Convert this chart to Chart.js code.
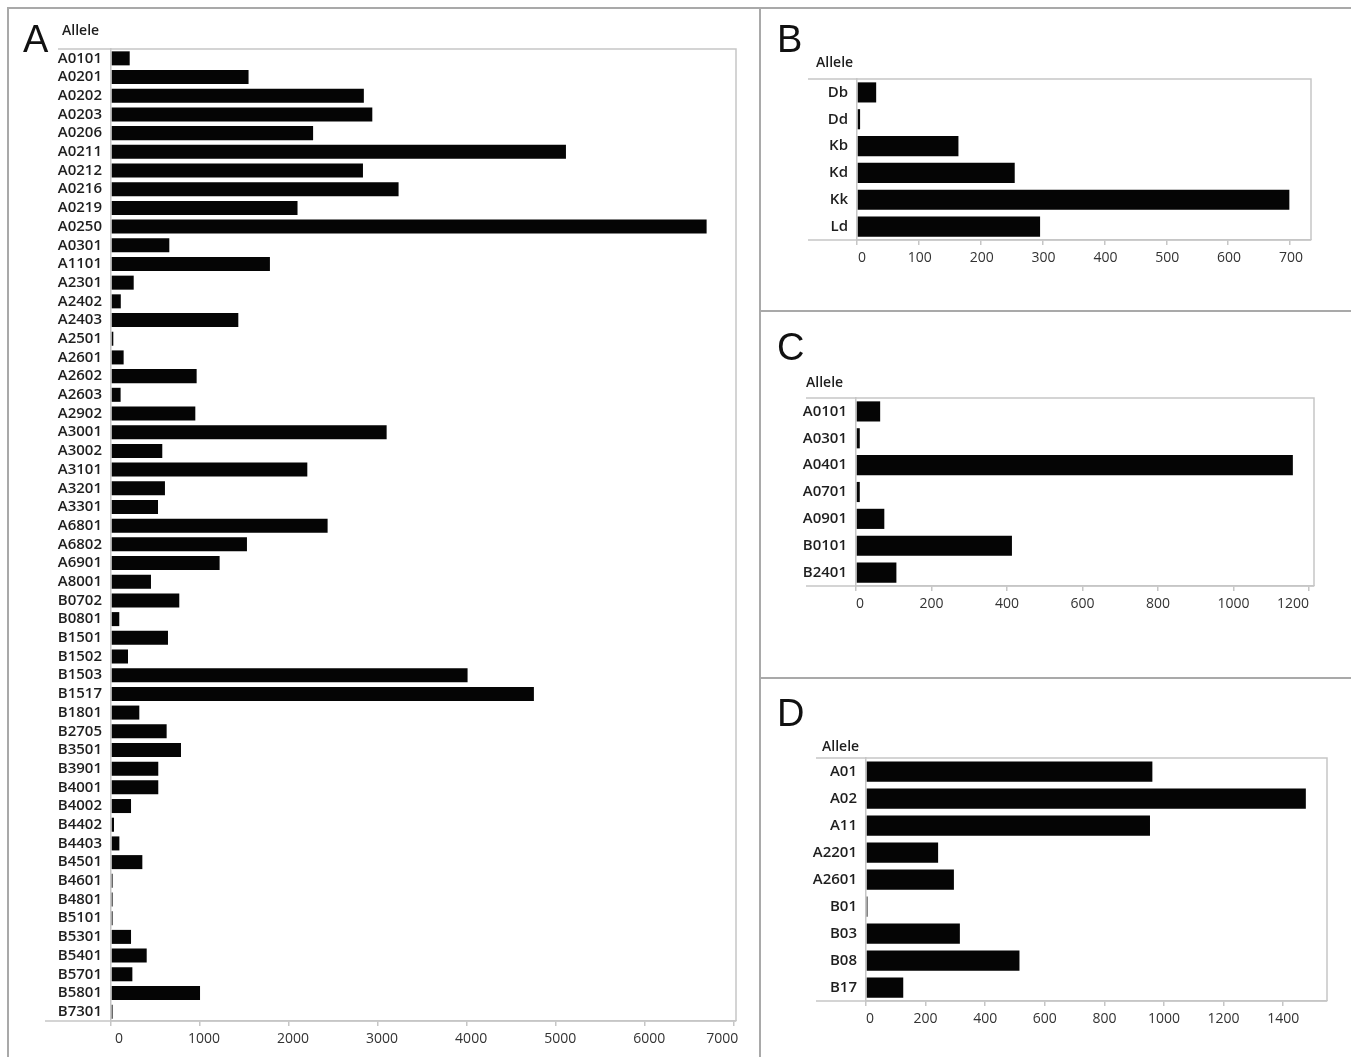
<!DOCTYPE html>
<html lang="en">
<head>
<meta charset="UTF-8">
<title>Allele counts</title>
<script src="https://cdn.jsdelivr.net/npm/chart.js"></script>
<style>
    body { margin: 0; background: #fff; width: 1351px; height: 1057px; overflow: hidden; position: relative; font-family: "Open Sans", sans-serif; }
    .rule { position: absolute; background: #a9a9a9; }
    .panel { position: absolute; }
    .letter { position: absolute; font-family: "Liberation Sans", Arial, sans-serif; font-size: 38px; line-height: 38px; color: #111; }
    .allele { position: absolute; font-size: 14px; font-weight: 600; line-height: 18px; color: #1e1e1e; }
</style>
</head>
<body>
<div class="rule" style="left:7px;top:7px;width:1344px;height:2px"></div>
<div class="rule" style="left:7px;top:7px;width:2px;height:1050px"></div>
<div class="rule" style="left:759px;top:7px;width:2px;height:1050px"></div>
<div class="rule" style="left:759px;top:310px;width:592px;height:2px"></div>
<div class="rule" style="left:759px;top:677px;width:592px;height:2px"></div>

<canvas id="chartA" class="panel" style="left:0;top:0" width="758" height="1057"></canvas>
<canvas id="chartB" class="panel" style="left:762px;top:0" width="589" height="308"></canvas>
<canvas id="chartC" class="panel" style="left:762px;top:313px" width="589" height="362"></canvas>
<canvas id="chartD" class="panel" style="left:762px;top:680px" width="589" height="377"></canvas>

<div class="letter" style="left:23px;top:20px">A</div>
<div class="letter" style="left:777px;top:20px">B</div>
<div class="letter" style="left:777px;top:328px">C</div>
<div class="letter" style="left:777px;top:694px">D</div>
<div class="allele" style="left:62px;top:21px">Allele</div>
<div class="allele" style="left:816px;top:53px">Allele</div>
<div class="allele" style="left:806px;top:373px">Allele</div>
<div class="allele" style="left:822px;top:737px">Allele</div>

<script>
    // panel A: HLA alleles
    const allelesA = ['A0101', 'A0201', 'A0202', 'A0203', 'A0206', 'A0211', 'A0212', 'A0216', 'A0219', 'A0250',
        'A0301', 'A1101', 'A2301', 'A2402', 'A2403', 'A2501', 'A2601', 'A2602', 'A2603', 'A2902',
        'A3001', 'A3002', 'A3101', 'A3201', 'A3301', 'A6801', 'A6802', 'A6901', 'A8001', 'B0702',
        'B0801', 'B1501', 'B1502', 'B1503', 'B1517', 'B1801', 'B2705', 'B3501', 'B3901', 'B4001',
        'B4002', 'B4402', 'B4403', 'B4501', 'B4601', 'B4801', 'B5101', 'B5301', 'B5401', 'B5701',
        'B5801', 'B7301'];
    const countsA = [210, 1545, 2840, 2935, 2270, 5110, 2830, 3230, 2095, 6690,
        655, 1785, 255, 110, 1430, 26, 142, 962, 108, 947,
        3096, 576, 2205, 606, 528, 2433, 1527, 1220, 449, 767,
        93, 640, 191, 4005, 4750, 318, 625, 786, 531, 531,
        225, 34, 94, 352, 18, 18, 18, 225, 401, 240,
        1000, 18];

    // panel B: mouse alleles
    const allelesB = ['Db', 'Dd', 'Kb', 'Kd', 'Kk', 'Ld'];
    const countsB = [31, 5, 164, 255, 699, 296];

    // panel C
    const allelesC = ['A0101', 'A0301', 'A0401', 'A0701', 'A0901', 'B0101', 'B2401'];
    const countsC = [64, 10, 1157, 10, 75, 413, 107];

    // panel D
    const allelesD = ['A01', 'A02', 'A11', 'A2201', 'A2601', 'B01', 'B03', 'B08', 'B17'];
    const countsD = [961, 1476, 953, 242, 295, 5, 315, 515, 125];

    const lineGray = '#c6c6c6';

    // JMP style frame: top line + right edge, bottom line running left past the axis
    const framePlugin = {
        id: 'frame',
        afterDraw(chart, args, opts) {
            const a = chart.chartArea;
            const ctx = chart.ctx;
            ctx.save();
            ctx.strokeStyle = lineGray;
            ctx.lineWidth = 1.5;
            ctx.beginPath();
            ctx.moveTo(opts.topFrom, a.top);
            ctx.lineTo(a.right, a.top);
            ctx.lineTo(a.right, a.bottom);
            ctx.moveTo(opts.bottomFrom, a.bottom);
            ctx.lineTo(a.right, a.bottom);
            ctx.stroke();
            ctx.restore();
        }
    };

    function drawPanel(id, labels, values, box) {
        const canvas = document.getElementById(id);
        const W = canvas.width, H = canvas.height;
        const step = box.step;
        const onStep = v => v % step === 0;
        return new Chart(canvas, {
            type: 'bar',
            data: {
                labels: labels,
                datasets: [{
                    data: values,
                    backgroundColor: '#050505',
                    borderWidth: 0,
                    barPercentage: 0.75,
                    categoryPercentage: 1
                }]
            },
            options: {
                indexAxis: 'y',
                responsive: false,
                animation: false,
                devicePixelRatio: 1,
                layout: {
                    padding: { top: box.top, right: W - box.right, bottom: H - box.bottom - 30, left: 0 }
                },
                plugins: {
                    legend: { display: false },
                    tooltip: { enabled: false },
                    frame: { topFrom: box.topFrom, bottomFrom: box.bottomFrom }
                },
                scales: {
                    x: {
                        min: 0,
                        max: box.max,
                        ticks: {
                            align: 'inner',
                            labelOffset: box.labelOffset,
                            padding: 5,
                            maxRotation: 0,
                            color: '#333',
                            font: { family: 'Open Sans', size: 14 },
                            callback: v => onStep(v) ? String(v) : ''
                        },
                        grid: {
                            drawOnChartArea: false,
                            tickLength: 5,
                            lineWidth: 1.5,
                            color: c => (c.tick && !onStep(c.tick.value)) ? 'rgba(0,0,0,0)' : lineGray
                        },
                        border: { color: lineGray, width: 1.5 },
                        afterFit: s => { s.height = 30; },
                        // round steps only; a blank tick at the axis end keeps the last number centred
                        afterBuildTicks: s => {
                            const t = [];
                            for (let v = 0; v <= s.max; v += step) t.push({ value: v });
                            if (box.blankEnd) t.push({ value: s.max });
                            s.ticks = t;
                        }
                    },
                    y: {
                        ticks: {
                            autoSkip: false,
                            padding: 9,
                            color: '#1e1e1e',
                            font: { family: 'Open Sans', size: 15, weight: '600' }
                        },
                        grid: { display: false, drawTicks: false },
                        border: { color: lineGray, width: 1.5 },
                        afterFit: s => { s.width = box.left; }
                    }
                }
            },
            plugins: [framePlugin]
        });
    }

    drawPanel('chartA', allelesA, countsA, { left: 111, right: 736, top: 49, bottom: 1021, topFrom: 58, bottomFrom: 45, max: 7020, step: 1000, labelOffset: 4, blankEnd: false });
    drawPanel('chartB', allelesB, countsB, { left: 95, right: 549, top: 79, bottom: 240, topFrom: 46, bottomFrom: 46, max: 734, step: 100, labelOffset: 1, blankEnd: true });
    drawPanel('chartC', allelesC, countsC, { left: 94, right: 552, top: 85, bottom: 273, topFrom: 44, bottomFrom: 44, max: 1213, step: 200, labelOffset: 0, blankEnd: false });
    drawPanel('chartD', allelesD, countsD, { left: 104, right: 565, top: 78, bottom: 321, topFrom: 54, bottomFrom: 54, max: 1547, step: 200, labelOffset: 0, blankEnd: true });
</script>
</body>
</html>
